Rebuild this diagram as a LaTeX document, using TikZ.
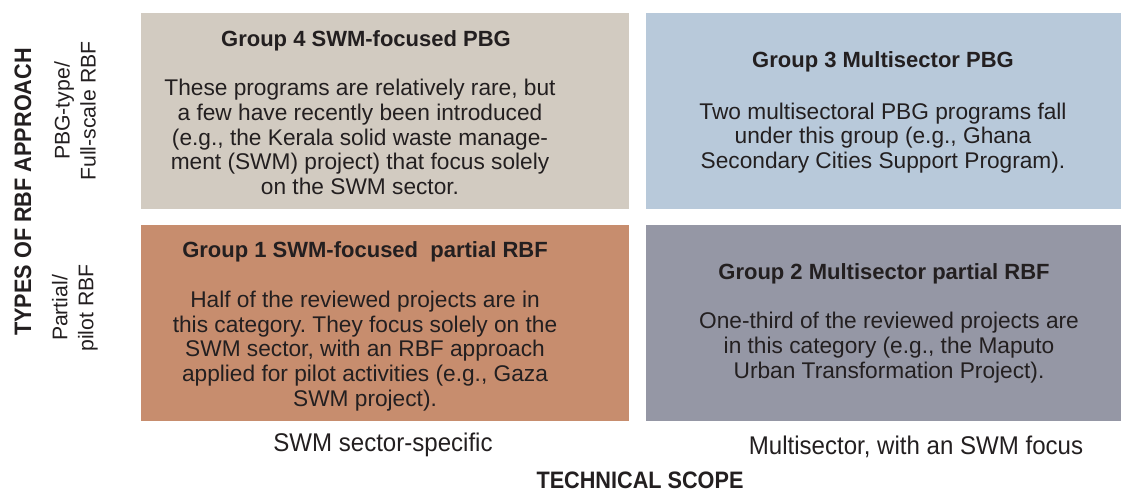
\documentclass[tikz,border=0pt]{standalone}
\usepackage{fontspec}
\setmainfont{Liberation Sans}
\newfontfamily\condfont[FakeStretch=0.91]{Liberation Sans}
\newfontfamily\scopefont[FakeStretch=0.94]{Liberation Sans}
\usetikzlibrary{positioning}
\frenchspacing

\definecolor{grpfour}{RGB}{210,203,193}
\definecolor{grpthree}{RGB}{184,201,218}
\definecolor{grpone}{RGB}{199,141,110}
\definecolor{grptwo}{RGB}{149,151,165}
\definecolor{inkgray}{RGB}{35,31,32}

\begin{document}
\begin{tikzpicture}[
    x=0.5pt, y=-0.5pt,
    text=inkgray,
    cell/.style={rectangle, inner sep=0pt, anchor=north west, minimum height=98pt},
    narrowcell/.style={cell, minimum width=244pt},
    widecell/.style={cell, minimum width=237.5pt},
    grptitle/.style={anchor=base, font=\bfseries\fontsize{11}{12}\selectfont},
    grpbody/.style={align=center, inner sep=0pt, font=\fontsize{11.35}{12.35}\selectfont},
    rowlabel/.style={rotate=90, align=center, inner sep=0pt, font=\fontsize{10.6}{13}\selectfont},
    axislabel/.style={inner sep=0pt, font=\condfont\bfseries\fontsize{11.9}{13}\selectfont},
    scopelabel/.style={inner sep=0pt, font=\scopefont\fontsize{12.8}{14}\selectfont}
]
\useasboundingbox (0,0) rectangle (1122,491);

% the four groups
\node[narrowcell, fill=grpfour] (g4) at (141,13) {};
\node[widecell, fill=grpthree] (g3) at (646,13) {};
\node[narrowcell, fill=grpone] (g1) at (141,225) {};
\node[widecell, fill=grptwo] (g2) at (646,225) {};

% Group 4
\node[grptitle] (g4title) at (366,47) {Group 4 SWM-focused PBG};
\node[grpbody] (g4body) at (360,137) {These programs are relatively rare, but\\a few have recently been introduced\\(e.g., the Kerala solid waste manage-\\ment (SWM) project) that focus solely\\on the SWM sector.};

% Group 3
\node[grptitle] (g3title) at (883,68) {Group 3 Multisector PBG};
\node[grpbody] (g3body) at (883,138) {Two multisectoral PBG programs fall\\under this group (e.g., Ghana\\Secondary Cities Support Program).};

% Group 1
\node[grptitle] (g1title) at (365,257) {Group 1 SWM-focused\ \ partial RBF};
\node[grpbody] (g1body) at (365,351) {Half of the reviewed projects are in\\this category. They focus solely on the\\SWM sector, with an RBF approach\\applied for pilot activities (e.g., Gaza\\SWM project).};

% Group 2
\node[grptitle] (g2title) at (884,279) {Group 2 Multisector partial RBF};
\node[grpbody] (g2body) at (889,347.5) {One-third of the reviewed projects are\\in this category (e.g., the Maputo\\Urban Transformation Project).};

% vertical axis
\node[axislabel, rotate=90] (approach) at (23,192) {TYPES OF RBF APPROACH};
\node[rowlabel] (fullscale) at (75,111) {PBG-type/\\Full-scale RBF};
\node[rowlabel] (partial) at (75,308) {Partial/\\pilot RBF};

% horizontal axis
\node[scopelabel] (sectoral) at (383,445) {SWM sector-specific};
\node[scopelabel] (multi) at (916,447) {Multisector, with an SWM focus};
\node[axislabel, anchor=base] (scope) at (640,488) {TECHNICAL SCOPE};
\end{tikzpicture}
\end{document}
